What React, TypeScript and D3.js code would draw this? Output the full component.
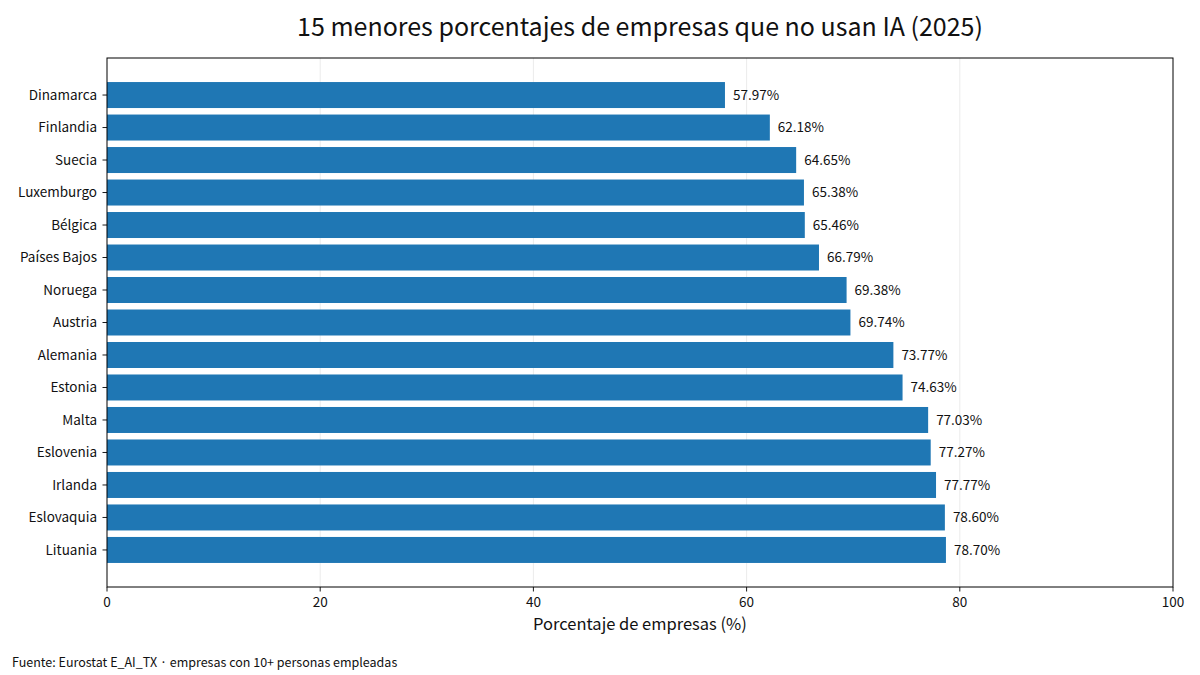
import * as d3 from 'd3';

const countries = [
  'Dinamarca', 'Finlandia', 'Suecia', 'Luxemburgo', 'Bélgica', 'Países Bajos', 'Noruega', 'Austria',
  'Alemania', 'Estonia', 'Malta', 'Eslovenia', 'Irlanda', 'Eslovaquia', 'Lituania',
];
const values = [57.97, 62.18, 64.65, 65.38, 65.46, 66.79, 69.38, 69.74, 73.77, 74.63, 77.03, 77.27, 77.77, 78.6, 78.7];
const xTicks = [0, 20, 40, 60, 80, 100];

const font = '"Noto Sans CJK JP", "Noto Sans", sans-serif';

export default function App() {
  const W = 1200;
  const H = 675;
  const margin = { top: 58, right: 27, bottom: 88, left: 107 };
  const width = W - margin.left - margin.right;
  const height = H - margin.top - margin.bottom;

  const x = d3.scaleLinear().domain([0, 100]).range([0, width]);
  // matplotlib-like index scale with margins
  const y = d3.scaleLinear().domain([-1.14, 15.14]).range([0, height]);
  const barH = y(0.4) - y(-0.4);

  return (
    <svg width={W} height={H} style={{ position: 'absolute', left: 0, top: 0, fontFamily: font }}>
      <rect width={W} height={H} fill="#fff" />
      <g transform={`translate(${margin.left}, ${margin.top})`}>
        <text x={width / 2} y={-22} textAnchor="middle" fontSize={25} fill="#111">
          15 menores porcentajes de empresas que no usan IA (2025)
        </text>
        {xTicks.slice(1, -1).map((t) => (
          <line key={t} x1={x(t)} x2={x(t)} y1={0} y2={height} stroke="#e6e6e6" strokeWidth={0.8} />
        ))}
        {values.map((v, i) => (
          <g key={countries[i]}>
            <rect x={x(0)} y={y(i) - barH / 2} width={x(v) - x(0)} height={barH} fill="#1f77b4" />
            <text x={x(v) + 8} y={y(i)} dy="0.35em" fontSize={13.5} fill="#111">
              {v.toFixed(2)}%
            </text>
            <line x1={-4.5} x2={0} y1={y(i)} y2={y(i)} stroke="#000" strokeWidth={0.9} />
            <text x={-10} y={y(i)} dy="0.35em" textAnchor="end" fontSize={13.5} fill="#111">
              {countries[i]}
            </text>
          </g>
        ))}
        <rect x={0} y={0} width={width} height={height} fill="none" stroke="#000" strokeWidth={1} />
        {xTicks.map((t) => (
          <g key={t} transform={`translate(${x(t)}, ${height})`}>
            <line y2={4.5} stroke="#000" strokeWidth={0.9} />
            <text y={20} textAnchor="middle" fontSize={13.5} fill="#111">
              {t}
            </text>
          </g>
        ))}
        <text x={width / 2} y={height + 43} textAnchor="middle" fontSize={16.5} fill="#111">
          Porcentaje de empresas (%)
        </text>
      </g>
      <text x={12} y={667} fontSize={12.5} fill="#111">
        Fuente: Eurostat E_AI_TX · empresas con 10+ personas empleadas
      </text>
    </svg>
  );
}
